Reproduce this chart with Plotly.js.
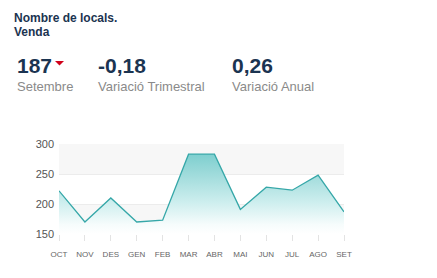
<!DOCTYPE html>
<html>
<head>
<meta charset="utf-8">
<script src="https://cdn.plot.ly/plotly-3.0.1.min.js"></script>
<style>
html,body{margin:0;padding:0;background:#fff;}
#chart{width:437px;height:278px;}
</style>
</head>
<body>
<div id="chart"></div>
<script>
var months = ["OCT","NOV","DES","GEN","FEB","MAR","ABR","MAI","JUN","JUL","AGO","SET"];
var values = [222, 170, 210, 170, 173, 283, 283, 191, 228, 223, 248, 187];
var baseline = [150, 150, 150, 150, 150, 150, 150, 150, 150, 150, 150, 150];
var yTicks = [150, 200, 250, 300];
var title1 = "Nombre de locals.";
var title2 = "Venda";
var kpiValues = ["187", "-0,18", "0,26"];
var kpiLabels = ["Setembre", "Variació Trimestral", "Variació Anual"];

var W = 437, H = 278;
var L = 59, R = 93, T = 144, B = 44;
var PW = W - L - R, PH = H - T - B;
function px(x){ return (x - L) / PW; }
function py(y){ return 1 - (y - T) / PH; }

var font = "Liberation Sans, Arial, Helvetica, sans-serif";
var navy = "#1b3451";

var base = {
  x: months, y: baseline, type: "scatter", mode: "lines",
  line: {width: 0, color: "rgba(0,0,0,0)"}, hoverinfo: "skip"
};
var trace = {
  x: months,
  y: values,
  type: "scatter",
  mode: "lines",
  line: {color: "#35a7a8", width: 1.3},
  fill: "tonexty",
  fillgradient: {
    type: "vertical",
    colorscale: [[0, "#ffffff"], [0.12, "#f6fcfc"], [0.4, "#cdeeee"], [0.75, "#9fdbdb"], [1, "#7ecfcf"]]
  },
  hoverinfo: "skip"
};

var ann = [];
function txt(t, x, y, size, color, bold){
  ann.push({text: bold ? "<b>" + t + "</b>" : t, xref: "paper", yref: "paper",
    x: px(x), y: py(y), xanchor: "left", yanchor: "middle", showarrow: false,
    font: {family: font, size: size, color: color}});
}
txt(title1, 12, 18, 12, navy, true);
txt(title2, 12, 32, 12, navy, true);
var kx = [15, 96, 230];
for (var i = 0; i < 3; i++){
  txt(kpiValues[i], kx[i], 65, 21, navy, true);
  txt(kpiLabels[i], kx[i], 86, 13, "#8a8a8a", false);
}

var tri = "M " + px(55) + "," + py(61) + " L " + px(64) + "," + py(61) + " L " + px(59.5) + "," + py(65.5) + " Z";

var layout = {
  width: W, height: H,
  margin: {l: L, r: R, t: T, b: B, pad: 0},
  paper_bgcolor: "#fff", plot_bgcolor: "#fff",
  showlegend: false,
  xaxis: {
    type: "category", range: [0, months.length - 1],
    showgrid: false, zeroline: false,
    showline: false,
    ticks: "outside", ticklen: 6, tickcolor: "#e3e3e3", tickwidth: 1,
    ticklabelstandoff: 6,
    tickfont: {family: font, size: 8, color: "#666"},
    fixedrange: true
  },
  yaxis: {
    range: [150, 300], tickvals: yTicks,
    showgrid: true, gridcolor: "#ececec", gridwidth: 1,
    zeroline: false, showline: false,
    ticklabelstandoff: 4,
    tickfont: {family: font, size: 11, color: "#555"},
    fixedrange: true
  },
  shapes: [
    {type: "rect", xref: "paper", yref: "y", x0: 0, x1: 1, y0: 250, y1: 300,
      fillcolor: "#f7f7f7", line: {width: 0}, layer: "below"},
    {type: "rect", xref: "paper", yref: "y", x0: 0, x1: 1, y0: 150, y1: 200,
      fillcolor: "#f7f7f7", line: {width: 0}, layer: "below"},
    {type: "path", xref: "paper", yref: "paper", path: tri,
      fillcolor: "#d0021b", line: {width: 0}}
  ],
  annotations: ann
};

Plotly.newPlot("chart", [base, trace], layout, {displayModeBar: false, staticPlot: true});
</script>
</body>
</html>
